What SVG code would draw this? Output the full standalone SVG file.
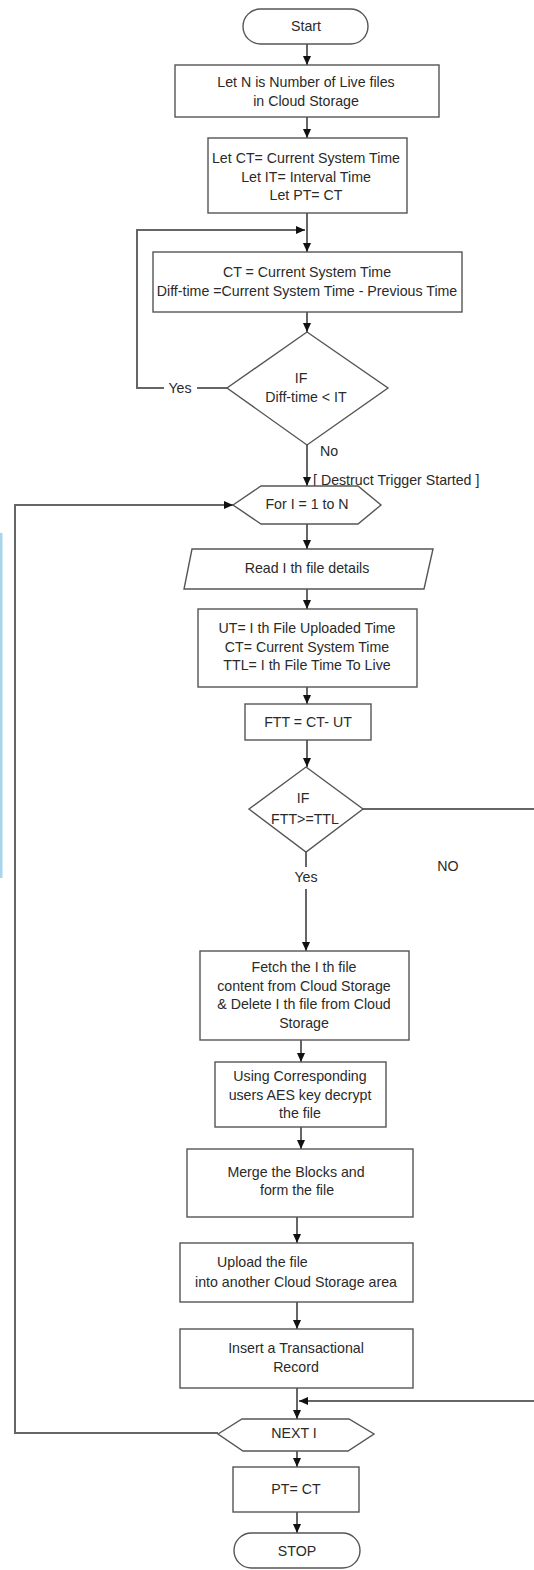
<svg xmlns="http://www.w3.org/2000/svg" width="534" height="1570" viewBox="0 0 534 1570">
<style>
.n{fill:#fff;stroke:#555;stroke-width:1.4}
.t{font-family:"Liberation Sans",Arial,sans-serif;font-size:14.2px;fill:#2a2a2a;text-anchor:middle;dominant-baseline:middle}
.c{fill:none;stroke:#333;stroke-width:1.5}
.l{fill:none;stroke:#666;stroke-width:2}
</style>
<defs>
<marker id="ah" markerUnits="userSpaceOnUse" markerWidth="10" markerHeight="10" refX="9" refY="5" orient="auto">
<path d="M0,1 L9,5 L0,9 Z" fill="#111"/>
</marker>
</defs>
<rect width="534" height="1570" fill="#fff"/>
<rect x="0" y="533" width="2.5" height="345" fill="#a8d4ec"/>

<g id="connectors">
<path class="c" d="M307,44 V65" marker-end="url(#ah)"/>
<path class="c" d="M307,117 V138" marker-end="url(#ah)"/>
<path class="c" d="M307,213 V252" marker-end="url(#ah)"/>
<path class="l" d="M227,388 H197"/>
<path class="l" d="M164,388 H137 V230 H305" marker-end="url(#ah)"/>
<path class="c" d="M307,312 V332" marker-end="url(#ah)"/>
<path class="c" d="M307,445 V486" marker-end="url(#ah)"/>
<path class="c" d="M307,524 V549" marker-end="url(#ah)"/>
<path class="c" d="M307,589 V609" marker-end="url(#ah)"/>
<path class="c" d="M307,687 V704" marker-end="url(#ah)"/>
<path class="c" d="M307,740 V767" marker-end="url(#ah)"/>
<path class="c" d="M306,852 V867"/>
<path class="c" d="M306,889 V951" marker-end="url(#ah)"/>
<path class="c" d="M301,1040 V1062" marker-end="url(#ah)"/>
<path class="c" d="M301,1127 V1149" marker-end="url(#ah)"/>
<path class="c" d="M297,1217 V1243" marker-end="url(#ah)"/>
<path class="c" d="M297,1302 V1329" marker-end="url(#ah)"/>
<path class="c" d="M297,1388 V1419" marker-end="url(#ah)"/>
<path class="l" d="M363,809 H540 V1401 H299" marker-end="url(#ah)"/>
<path class="c" d="M297,1451 V1467" marker-end="url(#ah)"/>
<path class="c" d="M297,1512 V1533" marker-end="url(#ah)"/>
<path class="l" d="M218,1433 H15 V505 H233" marker-end="url(#ah)"/>
<text class="t" x="180" y="389">Yes</text>
<text class="t" x="329" y="452">No</text>
<text class="t" x="313" y="481" style="text-anchor:start">[ Destruct Trigger Started ]</text>
<text class="t" x="306" y="878">Yes</text>
<text class="t" x="448" y="867">NO</text>
</g>

<g id="start">
<rect class="n" x="243" y="9" width="125" height="35" rx="17.5"/>
<text class="t" x="306" y="27">Start</text>
</g>
<g id="init-n">
<rect class="n" x="175" y="65" width="264" height="52"/>
<text class="t" x="306" y="83">Let N is Number of Live files</text>
<text class="t" x="306" y="102">in Cloud Storage</text>
</g>
<g id="init-times">
<rect class="n" x="208" y="138" width="199" height="75"/>
<text class="t" x="306" y="159">Let CT= Current System Time</text>
<text class="t" x="306" y="178">Let IT= Interval Time</text>
<text class="t" x="306" y="196">Let PT= CT</text>
</g>
<g id="diff-time">
<rect class="n" x="153" y="252" width="309" height="60"/>
<text class="t" x="307" y="273">CT = Current System Time</text>
<text class="t" x="307" y="292">Diff-time =Current System Time - Previous Time</text>
</g>
<g id="if-diff">
<polygon class="n" points="307,332 388,388 307,445 227,388"/>
<text class="t" x="301" y="379">IF</text>
<text class="t" x="306" y="398">Diff-time &lt; IT</text>
</g>
<g id="for-loop">
<polygon class="n" points="233,505 261,486 358,486 381,505 358,524 261,524"/>
<text class="t" x="307" y="505">For I = 1 to N</text>
</g>
<g id="read-file">
<polygon class="n" points="192,549 433,549 424,589 184,589"/>
<text class="t" x="307" y="569">Read I th file details</text>
</g>
<g id="file-times">
<rect class="n" x="198" y="609" width="219" height="78"/>
<text class="t" x="307" y="629">UT= I th File Uploaded Time</text>
<text class="t" x="307" y="648">CT= Current System Time</text>
<text class="t" x="307" y="666">TTL= I th File Time To Live</text>
</g>
<g id="ftt">
<rect class="n" x="245" y="704" width="126" height="36"/>
<text class="t" x="308" y="723">FTT = CT- UT</text>
</g>
<g id="if-ftt">
<polygon class="n" points="306,767 363,809 306,852 249,809"/>
<text class="t" x="303" y="799">IF</text>
<text class="t" x="305" y="820">FTT&gt;=TTL</text>
</g>
<g id="fetch">
<rect class="n" x="200" y="951" width="209" height="89"/>
<text class="t" x="304" y="968">Fetch the I th file</text>
<text class="t" x="304" y="987">content from Cloud Storage</text>
<text class="t" x="304" y="1005">&amp; Delete I th file from Cloud</text>
<text class="t" x="304" y="1024">Storage</text>
</g>
<g id="decrypt">
<rect class="n" x="215" y="1062" width="171" height="65"/>
<text class="t" x="300" y="1077">Using Corresponding</text>
<text class="t" x="300" y="1096">users AES key decrypt</text>
<text class="t" x="300" y="1114">the file</text>
</g>
<g id="merge">
<rect class="n" x="187" y="1149" width="226" height="68"/>
<text class="t" x="296" y="1173">Merge the Blocks and</text>
<text class="t" x="297" y="1191">form the file</text>
</g>
<g id="upload">
<rect class="n" x="180" y="1243" width="233" height="59"/>
<text class="t" x="217" y="1263" style="text-anchor:start">Upload the file</text>
<text class="t" x="296" y="1283">into another Cloud Storage area</text>
</g>
<g id="insert">
<rect class="n" x="180" y="1329" width="233" height="59"/>
<text class="t" x="296" y="1349">Insert a Transactional</text>
<text class="t" x="296" y="1368">Record</text>
</g>
<g id="next-i">
<polygon class="n" points="218,1434 242,1419 349,1419 374,1434 348,1451 243,1451"/>
<text class="t" x="294" y="1434">NEXT I</text>
</g>
<g id="pt-ct">
<rect class="n" x="233" y="1467" width="126" height="45"/>
<text class="t" x="296" y="1490">PT= CT</text>
</g>
<g id="stop">
<rect class="n" x="234" y="1533" width="126" height="35" rx="17.5"/>
<text class="t" x="297" y="1552">STOP</text>
</g>
</svg>
